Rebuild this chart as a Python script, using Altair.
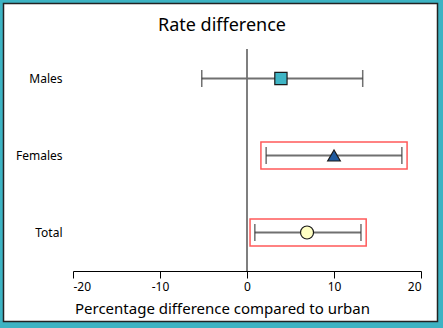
import altair as alt
import pandas as pd

categories = ["Males", "Females", "Total"]
estimate = [3.9, 10.0, 6.9]
ci_low = [-5.2, 2.2, 0.9]
ci_high = [13.3, 17.8, 13.1]
shapes = ["square", "triangle-up", "circle"]
fills = ["#3FB5C5", "#1F5A9E", "#FFFFC4"]
highlight = [False, True, True]
box_low = [None, 1.6, 0.35]
box_high = [None, 18.4, 13.7]
tick_values = [-20, -10, 0, 10, 20]
title_text = "Rate difference"

df = pd.DataFrame({
    "cat": categories, "est": estimate, "lo": ci_low, "hi": ci_high,
    "shape": shapes, "fill": fills, "hl": highlight,
    "blo": box_low, "bhi": box_high,
})

FONT = "Noto Sans"
W, H = 348, 231
yenc = alt.Y("cat:N", sort=categories,
             scale=alt.Scale(domain=categories, paddingInner=0, paddingOuter=0),
             axis=alt.Axis(title=None, domain=False, ticks=False, labelPadding=11, zindex=1,
                           labelFontSize=12, labelFont=FONT, labelColor="#000"))
xscale = alt.Scale(domain=[-20, 20], nice=False)
xaxis = alt.Axis(title="Percentage difference compared to urban", values=tick_values,
                 labelExpr="'' + datum.value",
                 grid=False, domainColor="#000", tickColor="#000", tickSize=7, zindex=1,
                 labelFontSize=12, labelFont=FONT, labelColor="#000", labelPadding=3,
                 titleFont=FONT, titleFontSize=15, titleFontWeight="normal", titleColor="#000",
                 titleX=149, titleY=42, titleBaseline="alphabetic", titleAlign="center")

base = alt.Chart(df)

frame = base.mark_rect(fill="white", stroke="#222", strokeWidth=1.5, clip=False).encode(
    x=alt.value(-69.5), x2=alt.value(364.5), y=alt.value(-36.5), y2=alt.value(281.5)
).transform_filter("datum.cat == 'Males'")

title = alt.Chart(pd.DataFrame({"t": [title_text]})).mark_text(
    font=FONT, fontSize=18, color="#000", baseline="middle", align="center"
).encode(text="t:N", x=alt.value(149), y=alt.value(-14))

zero = alt.Chart(pd.DataFrame({"z": [0]})).mark_rule(color="#555", strokeWidth=1.5).encode(
    x=alt.X("z:Q", scale=xscale, axis=xaxis), y=alt.value(9), y2=alt.value(H)
)

boxes = base.transform_filter("datum.hl").mark_bar(
    size=27, fill="white", fillOpacity=0, stroke="#FF5A5A", strokeWidth=1.5
).encode(x=alt.X("blo:Q", scale=xscale, axis=xaxis), x2="bhi:Q", y=yenc)

lines = base.mark_rule(color="#707070", strokeWidth=2.2).encode(
    x=alt.X("lo:Q", scale=xscale, axis=xaxis), x2="hi:Q", y=yenc
)
cap_lo = base.mark_tick(color="#333", thickness=1.5, size=17, orient="vertical").encode(
    x=alt.X("lo:Q", scale=xscale, axis=xaxis), y=yenc
)
cap_hi = base.mark_tick(color="#333", thickness=1.5, size=17, orient="vertical").encode(
    x=alt.X("hi:Q", scale=xscale, axis=xaxis), y=yenc
)
points = base.mark_point(filled=True, stroke="#1a1a1a", strokeWidth=1.2, opacity=1).encode(
    x=alt.X("est:Q", scale=xscale, axis=xaxis), y=yenc,
    shape=alt.Shape("shape:N", scale=None),
    fill=alt.Fill("fill:N", scale=None),
    size=alt.Size("cat:N", scale=alt.Scale(domain=categories, range=[150, 170, 140]), legend=None),
)

chart = alt.layer(frame, title, zero, boxes, lines, cap_lo, cap_hi, points).properties(
    width=W, height=H,
    autosize=alt.AutoSizeParams(type="none"),
    padding={"left": 73, "top": 40, "right": 22, "bottom": 57},
    background="#3CB3C3",
).configure_view(stroke=None)

chart.save("out.html", embed_options={"renderer": "svg", "actions": False})
